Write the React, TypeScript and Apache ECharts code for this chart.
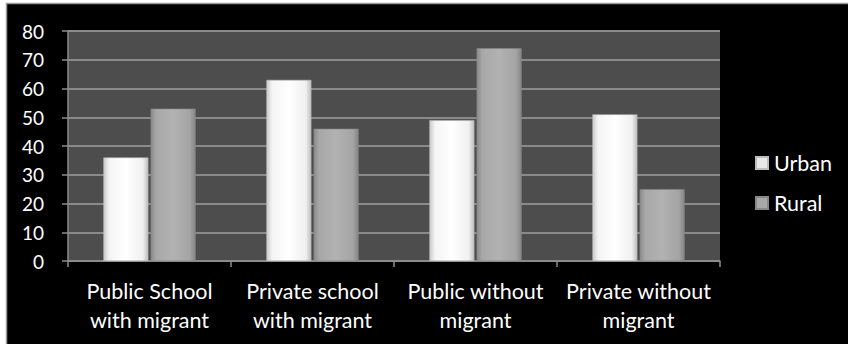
import React, { useEffect, useRef } from "react";
import * as echarts from "echarts";

const categories = [
  "Public School\nwith migrant",
  "Private school\nwith migrant",
  "Public without\nmigrant",
  "Private without\nmigrant",
];
const urban = [36, 63, 49, 51];
const rural = [53, 46, 74, 25];
const yTicks = { min: 0, max: 80, interval: 10 };

const FONT = "Lato";

export default function App() {
  const ref = useRef<HTMLDivElement>(null);
  useEffect(() => {
    if (!ref.current) return;
    const chart = echarts.init(ref.current, null, { renderer: "svg" });
    const urbanGrad = new echarts.graphic.LinearGradient(0, 0, 1, 0, [
      { offset: 0, color: "#c8c8c8" },
      { offset: 0.12, color: "#f4f4f4" },
      { offset: 0.5, color: "#ffffff" },
      { offset: 0.88, color: "#f0f0f0" },
      { offset: 1, color: "#bdbdbd" },
    ]);
    const ruralGrad = new echarts.graphic.LinearGradient(0, 0, 1, 0, [
      { offset: 0, color: "#8a8a8a" },
      { offset: 0.12, color: "#a8a8a8" },
      { offset: 0.5, color: "#b2b2b2" },
      { offset: 0.88, color: "#a4a4a4" },
      { offset: 1, color: "#858585" },
    ]);
    chart.setOption({
      animation: false,
      backgroundColor: "#ffffff",
      graphic: [
        {
          type: "rect",
          z: -10,
          silent: true,
          shape: { x: 6.5, y: 3.5, width: 850, height: 350 },
          style: { fill: "#000000", stroke: "#9a9a9a", lineWidth: 1.5 },
        },
        {
          type: "rect",
          z: -5,
          silent: true,
          shape: { x: 68, y: 31, width: 652, height: 230 },
          style: { fill: "#4d4d4d" },
        },
      ],
      grid: { left: 68, right: 128, top: 31, bottom: 83, containLabel: false },
      legend: {
        orient: "vertical",
        left: 755,
        top: 152,
        padding: 0,
        itemWidth: 12,
        itemHeight: 12,
        itemGap: 18,
        icon: "rect",
        textStyle: { color: "#ffffff", fontSize: 21.5, fontFamily: FONT, padding: [0, 0, 0, 1] },
        data: [
          { name: "Urban", itemStyle: { color: "#e8e8e8" } },
          { name: "Rural", itemStyle: { color: "#a8a8a8" } },
        ],
      },
      xAxis: {
        type: "category",
        data: categories,
        axisLine: { lineStyle: { color: "#8c8c8c", width: 1.5 } },
        axisTick: { show: true, length: 6, lineStyle: { color: "#8c8c8c", width: 1.5 } },
        axisLabel: {
          color: "#ffffff",
          fontSize: 21.5,
          fontFamily: FONT,
          lineHeight: 29,
          margin: 15,
          interval: 0,
        },
      },
      yAxis: {
        type: "value",
        min: yTicks.min,
        max: yTicks.max,
        interval: yTicks.interval,
        axisLine: { show: true, lineStyle: { color: "#8c8c8c", width: 1.5 } },
        axisTick: { show: true, length: 6, lineStyle: { color: "#8c8c8c", width: 1.5 } },
        splitLine: { lineStyle: { color: "#8a8a8a", width: 2 } },
        axisLabel: { color: "#ffffff", fontSize: 19, fontFamily: FONT, margin: 24 },
      },
      series: [
        {
          name: "Urban",
          type: "bar",
          data: urban,
          barWidth: 45,
          barGap: "5%",
          itemStyle: { color: urbanGrad, borderColor: "#bdbdbd", borderWidth: 0.5 },
        },
        {
          name: "Rural",
          type: "bar",
          data: rural,
          barWidth: 45,
          barGap: "5%",
          itemStyle: { color: ruralGrad, borderColor: "#888888", borderWidth: 0.5 },
        },
      ],
    });
    return () => chart.dispose();
  }, []);
  return (
    <div
      ref={ref}
      style={{ position: "absolute", left: 0, top: 0, width: 848, height: 344 }}
    />
  );
}
